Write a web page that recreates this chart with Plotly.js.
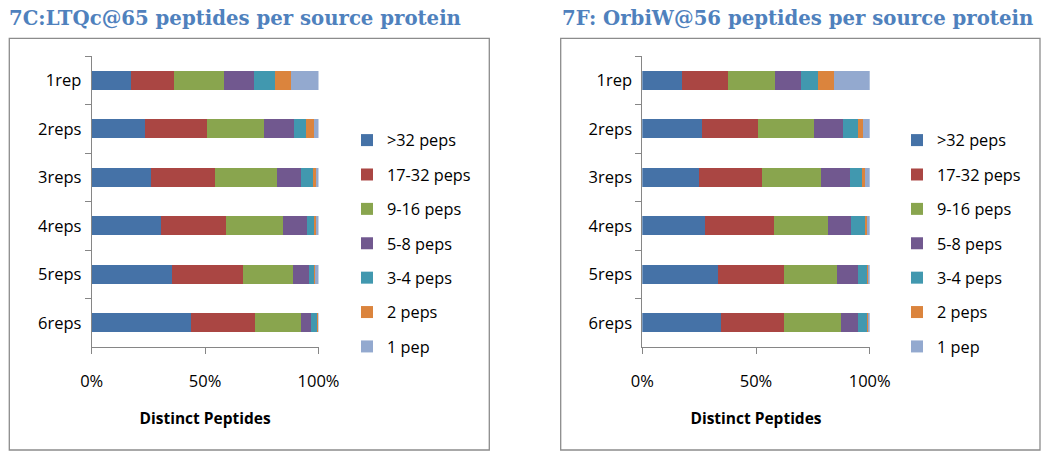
<!DOCTYPE html>
<html>
<head>
<meta charset="utf-8">
<script src="https://cdn.plot.ly/plotly-3.0.1.min.js"></script>
<style>html,body{margin:0;padding:0;background:#fff;}#chart{width:1050px;height:456px;}</style>
</head>
<body>
<div id="chart"></div>
<script>
// Data (percent of distinct peptides)
const categories = ["1rep", "2reps", "3reps", "4reps", "5reps", "6reps"];
const seriesNames = [">32 peps", "17-32 peps", "9-16 peps", "5-8 peps", "3-4 peps", "2 peps", "1 pep"];
const seriesColors = ["#4572A7", "#AA4643", "#89A54E", "#71588F", "#4198AF", "#DB843D", "#93A9CF"];

// 7C: LTQc@65
const ltq_gt32  = [17.3, 23.4, 26.1, 30.5, 35.3, 43.7];
const ltq_17_32 = [18.9, 27.3, 28.4, 28.5, 31.3, 28.5];
const ltq_9_16  = [22.0, 25.2, 27.2, 25.2, 22.0, 20.2];
const ltq_5_8   = [13.2, 13.1, 10.7, 10.7, 7.4, 4.4];
const ltq_3_4   = [9.6, 5.7, 5.0, 3.0, 1.9, 2.5];
const ltq_2     = [7.0, 3.4, 1.3, 1.1, 0.6, 0.6];
const ltq_1     = [12.0, 1.9, 1.3, 1.0, 1.5, 0.3];

// 7F: OrbiW@56
const orbi_gt32  = [17.3, 26.1, 24.9, 27.6, 33.2, 34.6];
const orbi_17_32 = [20.3, 24.8, 27.9, 30.2, 29.0, 27.6];
const orbi_9_16  = [20.8, 24.6, 25.8, 24.0, 23.4, 25.2];
const orbi_5_8   = [11.4, 12.6, 12.6, 10.0, 9.3, 7.5];
const orbi_3_4   = [7.5, 6.8, 5.5, 6.3, 3.9, 3.9];
const orbi_2     = [6.9, 2.0, 1.4, 0.8, 0.5, 0.5];
const orbi_1     = [15.8, 3.1, 1.9, 1.1, 0.7, 0.7];

const xTickVals = [0, 50, 100];
const xTickText = ["0%", "50%", "100%"];

const ltqSeries = [ltq_gt32, ltq_17_32, ltq_9_16, ltq_5_8, ltq_3_4, ltq_2, ltq_1];
const orbiSeries = [orbi_gt32, orbi_17_32, orbi_9_16, orbi_5_8, orbi_3_4, orbi_2, orbi_1];

const W = 1050, H = 456;
const px = v => v / W;
const py = v => 1 - v / H;

const traces = [];
function addPanel(series, xa, ya, legendName) {
  series.forEach((vals, i) => {
    traces.push({
      type: "bar", orientation: "h",
      x: vals, y: categories,
      name: seriesNames[i],
      marker: {color: seriesColors[i], line: {width: 0}},
      xaxis: xa, yaxis: ya,
      legend: legendName,
      legendgroup: legendName + i,
      hoverinfo: "x+name"
    });
  });
}
addPanel(ltqSeries, "x", "y", "legend");
addPanel(orbiSeries, "x2", "y2", "legend2");

const FAM = "Open Sans, Noto Sans, sans-serif";
const tickFont = {family: FAM, size: 16.5, color: "#000"};
function xAxis(domain, anchor) {
  return {
    domain: domain, anchor: anchor, range: [0, 100], fixedrange: true,
    tickvals: xTickVals, ticktext: xTickText, tickfont: {family: FAM, size: 16.5, color: "#000"},
    ticks: "outside", ticklen: 6, tickcolor: "#868686", tickwidth: 1,
    ticklabelstandoff: 13,
    showline: true, linecolor: "#868686", linewidth: 1,
    showgrid: false, zeroline: false,
    title: {text: "<b>Distinct Peptides</b>", font: {family: FAM, size: 15.5, color: "#000"}, standoff: 22}
  };
}
function yAxis(domain, anchor) {
  return {
    domain: domain, anchor: anchor, type: "category",
    categoryorder: "array", categoryarray: categories,
    autorange: "reversed", fixedrange: true,
    tickfont: tickFont, tickson: "boundaries",
    ticks: "outside", ticklen: 6, tickcolor: "#868686", tickwidth: 1,
    ticklabelstandoff: 6,
    showline: true, linecolor: "#868686", linewidth: 1,
    showgrid: false, zeroline: false
  };
}

const legendFont = {family: FAM, size: 16.3, color: "#000"};
const yDom = [py(347), py(56)];
const layout = {
  width: W, height: H,
  margin: {l: 0, r: 0, t: 0, b: 0},
  paper_bgcolor: "#fff", plot_bgcolor: "#fff",
  barmode: "stack", bargap: 0.6,
  showlegend: true,
  xaxis: xAxis([px(91.7), px(318.5)], "y"),
  yaxis: yAxis(yDom, "x"),
  xaxis2: xAxis([px(642.3), px(869.7)], "y2"),
  yaxis2: yAxis(yDom, "x2"),
  legend: {x: px(347), y: py(123), xanchor: "left", yanchor: "top",
           font: legendFont, tracegroupgap: 10.2, bgcolor: "rgba(0,0,0,0)", traceorder: "grouped"},
  legend2: {x: px(897), y: py(123), xanchor: "left", yanchor: "top",
           font: legendFont, tracegroupgap: 10.2, bgcolor: "rgba(0,0,0,0)", traceorder: "grouped"},
  shapes: [
    {type: "rect", xref: "paper", yref: "paper", x0: px(9.3), x1: px(489.3), y0: py(450), y1: py(38.3),
     line: {color: "#8c8c8c", width: 1.3}, fillcolor: "rgba(0,0,0,0)", layer: "below"},
    {type: "rect", xref: "paper", yref: "paper", x0: px(560.7), x1: px(1040), y0: py(450), y1: py(38.3),
     line: {color: "#8c8c8c", width: 1.3}, fillcolor: "rgba(0,0,0,0)", layer: "below"}
  ],
  annotations: [
    {text: "<b>7C:LTQc@65 peptides per source protein</b>", xref: "paper", yref: "paper",
     x: px(7), y: py(18), xanchor: "left", yanchor: "middle", showarrow: false,
     font: {family: "DejaVu Serif, serif", size: 19.7, color: "#4F81BD"}},
    {text: "<b>7F: OrbiW@56 peptides per source protein</b>", xref: "paper", yref: "paper",
     x: px(560), y: py(18), xanchor: "left", yanchor: "middle", showarrow: false,
     font: {family: "DejaVu Serif, serif", size: 19.7, color: "#4F81BD"}}
  ]
};

Plotly.newPlot("chart", traces, layout, {displayModeBar: false, staticPlot: true});
</script>
</body>
</html>
